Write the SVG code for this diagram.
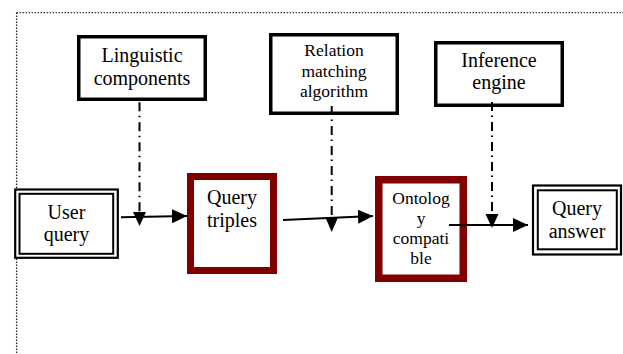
<svg xmlns="http://www.w3.org/2000/svg" width="623" height="354" viewBox="0 0 623 354">
<defs>
<style>
.txt{fill:#000;text-anchor:middle}
.big{font-size:20px}
.small{font-size:17.5px}
.box{fill:#fff;stroke:#000;stroke-width:3.5}
.red{fill:#fff;stroke:#800000}
.dbl-o{fill:#fff;stroke:#000;stroke-width:2.2}
.dbl-i{fill:none;stroke:#000;stroke-width:2}
.flow{fill:none;stroke:#000;stroke-width:2}
.dd{fill:none;stroke:#000;stroke-width:2;stroke-dasharray:9 4.5 1.5 5}
.frame{fill:none;stroke:#222;stroke-width:1.3;stroke-dasharray:1.3 1.7}
</style>
<marker id="ah" viewBox="0 0 15 14" refX="15" refY="7" markerWidth="15" markerHeight="14" markerUnits="userSpaceOnUse" orient="auto">
<path d="M0,0 L15,7 L0,14 Z" fill="#000"/>
</marker>
</defs>
<rect width="623" height="354" fill="#fff"/>
<g id="frame">
<line class="frame" x1="16.6" y1="12.6" x2="623" y2="12.6"/>
<line class="frame" x1="16.6" y1="12.6" x2="16.6" y2="354"/>
</g>
<g font-family="Liberation Serif, DejaVu Serif, serif">
<g id="linguistic">
<rect class="box" x="78.75" y="36.75" width="126.5" height="62.5"/>
<text class="txt big" x="142" y="62">Linguistic</text>
<text class="txt big" x="142" y="85">components</text>
</g>
<g id="relation">
<rect class="box" x="270.75" y="34.75" width="126.5" height="78.5"/>
<text class="txt small" x="334" y="56">Relation</text>
<text class="txt small" x="334" y="76.7">matching</text>
<text class="txt small" x="334" y="96.7">algorithm</text>
</g>
<g id="inference">
<rect class="box" x="435.75" y="42.75" width="126.5" height="62.5"/>
<text class="txt big" x="499" y="67.3">Inference</text>
<text class="txt big" x="499" y="89.3">engine</text>
</g>
<g id="user-query">
<rect class="dbl-o" x="15.2" y="189.5" width="102.6" height="68.3"/>
<rect class="dbl-i" x="19.5" y="193.8" width="93.7" height="60"/>
<text class="txt big" x="66.5" y="218.7">User</text>
<text class="txt big" x="66.5" y="241">query</text>
</g>
<g id="query-triples">
<rect class="red" x="190.5" y="176.5" width="83" height="94" stroke-width="7"/>
<text class="txt big" x="232" y="204">Query</text>
<text class="txt big" x="232" y="226.7">triples</text>
</g>
<g id="ontology">
<rect class="red" x="378.75" y="179.75" width="84.5" height="98.5" stroke-width="7.5"/>
<text class="txt small" x="421" y="204.3">Ontolog</text>
<text class="txt small" x="421" y="224.3">y</text>
<text class="txt small" x="421" y="244.3">compati</text>
<text class="txt small" x="421" y="264.3">ble</text>
</g>
<g id="query-answer">
<rect class="dbl-o" x="533" y="185.5" width="88" height="69"/>
<rect class="dbl-i" x="537.8" y="190.3" width="79" height="59"/>
<text class="txt big" x="577" y="215">Query</text>
<text class="txt big" x="577" y="237.7">answer</text>
</g>
</g>
<g id="connectors">
<path class="flow" d="M121,217.3 L187,216" marker-end="url(#ah)"/>
<path class="flow" d="M283,220 L373,216" marker-end="url(#ah)"/>
<path class="flow" d="M449,225 L528,225" marker-end="url(#ah)"/>
<path class="dd" d="M139.5,102.3 L139.5,214" />
<path d="M139.5,226 L133,212 L146,212 Z" fill="#000"/>
<path class="dd" d="M331.7,106 L331.7,219" />
<path d="M331.7,232 L325.2,217 L338.2,217 Z" fill="#000"/>
<path class="dd" d="M492,102 L492,216" />
<path d="M492,228 L485.5,214 L498.5,214 Z" fill="#000"/>
</g>
</svg>
